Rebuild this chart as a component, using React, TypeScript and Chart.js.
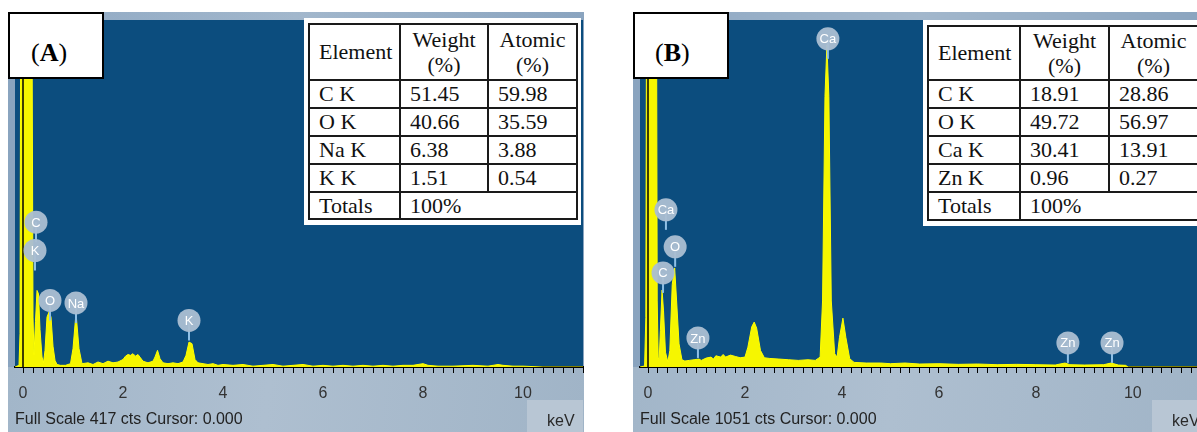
import React, { useEffect, useRef } from 'react';
import { Chart, registerables } from 'chart.js';

Chart.register(...registerables);

type Pt = [number, number];
type PeakLabel = { t: string; e: number; c: number };

// ---- spectrum (A): [energy keV, counts]
const SPECTRUM_A: Pt[] = [
  [-0.16, 0], [-0.08, 2], [-0.06, 40], [-0.04, 600], [0.17, 600], [0.2, 60], [0.22, 15],
  [0.25, 55], [0.28, 92], [0.31, 88], [0.34, 45], [0.38, 12], [0.41, 5], [0.44, 20],
  [0.48, 60], [0.52, 66], [0.56, 60], [0.6, 25], [0.64, 8], [0.68, 3], [0.75, 2],
  [0.85, 2], [0.95, 4], [1.0, 22], [1.06, 65], [1.12, 22], [1.18, 4], [1.3, 5],
  [1.4, 3], [1.5, 6], [1.6, 4], [1.7, 7], [1.8, 5], [1.9, 6], [2.0, 9], [2.05, 13],
  [2.1, 15], [2.15, 14], [2.2, 16], [2.25, 13], [2.3, 15], [2.35, 11], [2.4, 7],
  [2.5, 5], [2.6, 7], [2.64, 12], [2.69, 20], [2.74, 10], [2.8, 5], [2.9, 4], [3.0, 5],
  [3.1, 4], [3.2, 6], [3.26, 14], [3.32, 30], [3.38, 28], [3.44, 9], [3.5, 5], [3.6, 4],
  [3.7, 3], [3.8, 4], [3.9, 2], [4.0, 3], [4.2, 2], [4.4, 3], [4.6, 1], [4.8, 2],
  [5.0, 3], [5.2, 1], [5.4, 2], [5.6, 3], [5.8, 1], [6.0, 2], [6.2, 1], [6.4, 2],
  [6.6, 1], [6.8, 2], [7.0, 1], [7.2, 2], [7.4, 1], [7.6, 2], [7.8, 2], [8.0, 4],
  [8.1, 2], [8.3, 1], [8.6, 1], [9.0, 2], [9.3, 1], [9.5, 3], [9.6, 2], [9.8, 1],
  [10.0, 1], [10.4, 0], [11.2, 0],
];

// ---- spectrum (B): [energy keV, counts]
const SPECTRUM_B: Pt[] = [
  [-0.165, 0], [-0.07, 3], [-0.045, 150], [-0.025, 1500], [0.17, 1500], [0.19, 200],
  [0.21, 30], [0.23, 20], [0.255, 110], [0.29, 233], [0.32, 170], [0.36, 45], [0.41, 15],
  [0.45, 50], [0.5, 250], [0.55, 300], [0.59, 200], [0.64, 70], [0.7, 22], [0.76, 18],
  [0.85, 20], [0.95, 22], [1.05, 24], [1.1, 20], [1.2, 27], [1.3, 30], [1.35, 24],
  [1.4, 34], [1.5, 30], [1.55, 38], [1.6, 30], [1.7, 36], [1.8, 32], [1.9, 28], [2.0, 30],
  [2.06, 60], [2.14, 122], [2.19, 136], [2.24, 118], [2.32, 50], [2.4, 28], [2.5, 26],
  [2.7, 24], [2.9, 22], [3.1, 20], [3.3, 22], [3.45, 20], [3.55, 30], [3.6, 200],
  [3.65, 820], [3.69, 975], [3.73, 820], [3.78, 200], [3.85, 40], [3.9, 30], [3.95, 90],
  [4.02, 148], [4.08, 90], [4.16, 25], [4.25, 14], [4.5, 12], [4.8, 12], [5.0, 10],
  [5.3, 12], [5.6, 9], [6.0, 10], [6.4, 8], [6.8, 9], [7.2, 7], [7.6, 8], [8.0, 7],
  [8.4, 6], [8.6, 12], [8.7, 7], [9.0, 6], [9.4, 7], [9.55, 12], [9.7, 6], [9.85, 5],
  [9.9, 0], [11.6, 0],
];

const FULL_SCALE_A = 417;
const FULL_SCALE_B = 1051;
const X_RANGE_A: [number, number] = [-0.16, 11.2];
const X_RANGE_B: [number, number] = [-0.165, 11.57];
const TICK_LABELS = [0, 2, 4, 6, 8, 10];
const MINOR_STEPS_PER_KEV = 5;

const PEAK_LABELS_A: PeakLabel[] = [
  { t: 'C', e: 0.26, c: 174 },
  { t: 'K', e: 0.24, c: 140 },
  { t: 'O', e: 0.54, c: 80 },
  { t: 'Na', e: 1.06, c: 77 },
  { t: 'K', e: 3.32, c: 56 },
];
const PEAK_LABELS_B: PeakLabel[] = [
  { t: 'Ca', e: 0.37, c: 476 },
  { t: 'O', e: 0.56, c: 364 },
  { t: 'C', e: 0.31, c: 285 },
  { t: 'Zn', e: 1.03, c: 88 },
  { t: 'Ca', e: 3.71, c: 994 },
  { t: 'Zn', e: 8.66, c: 73 },
  { t: 'Zn', e: 9.57, c: 73 },
];

const ELEMENTS_A = ['C K', 'O K', 'Na K', 'K K'];
const WEIGHT_A = ['51.45', '40.66', '6.38', '1.51'];
const ATOMIC_A = ['59.98', '35.59', '3.88', '0.54'];
const ELEMENTS_B = ['C K', 'O K', 'Ca K', 'Zn K'];
const WEIGHT_B = ['18.91', '49.72', '30.41', '0.96'];
const ATOMIC_B = ['28.86', '56.97', '13.91', '0.27'];
const TOTAL = '100%';

const SANS = '"Liberation Sans", Arial, sans-serif';
const SERIF = '"Liberation Serif", "Times New Roman", serif';

function Spectrum(props: {
  width: number;
  height: number;
  spectrum: Pt[];
  fullScale: number;
  xRange: [number, number];
  labels: PeakLabel[];
}) {
  const ref = useRef<HTMLCanvasElement>(null);
  useEffect(() => {
    const canvas = ref.current!;
    const labels = props.labels;
    const plugin = {
      id: 'edsDecor',
      beforeDraw(chart: any) {
        const { ctx, chartArea: a } = chart;
        const w = chart.width;
        const h = chart.height;
        ctx.save();
        ctx.fillStyle = '#8aa4bf';
        ctx.fillRect(0, 0, w, h);
        const tg = ctx.createLinearGradient(0, 0, w, 0);
        tg.addColorStop(0, '#8ea8c3');
        tg.addColorStop(0.5, '#a2b7cc');
        tg.addColorStop(1, '#8aa4bf');
        ctx.fillStyle = tg;
        ctx.fillRect(0, 0, w, a.top);
        ctx.fillStyle = '#0c4d7e';
        ctx.fillRect(a.left, a.top, a.right - a.left, a.bottom - a.top);
        const bg = ctx.createLinearGradient(0, a.bottom, w, h);
        bg.addColorStop(0, '#a2b6c9');
        bg.addColorStop(0.45, '#aebfd0');
        bg.addColorStop(1, '#a0b4c7');
        ctx.fillStyle = bg;
        ctx.fillRect(0, a.bottom, w, h - a.bottom);
        ctx.restore();
      },
      afterDatasetsDraw(chart: any) {
        const { ctx, chartArea: a, scales } = chart;
        const x0 = scales.x.getPixelForValue(0);
        ctx.save();
        ctx.strokeStyle = '#000';
        ctx.lineWidth = 1.5;
        ctx.beginPath();
        ctx.moveTo(x0, a.top);
        ctx.lineTo(x0, a.bottom);
        ctx.stroke();
        for (const l of labels) {
          const x = scales.x.getPixelForValue(l.e);
          const y = scales.y.getPixelForValue(l.c);
          ctx.strokeStyle = '#8fc0e6';
          ctx.lineWidth = 2;
          ctx.beginPath();
          ctx.moveTo(x, y);
          ctx.lineTo(x, y + 20);
          ctx.stroke();
          ctx.fillStyle = 'rgba(170,189,209,0.96)';
          ctx.beginPath();
          ctx.arc(x, y, 11.5, 0, Math.PI * 2);
          ctx.fill();
          ctx.fillStyle = '#ffffff';
          ctx.font = '13px ' + SANS;
          ctx.textAlign = 'center';
          ctx.textBaseline = 'middle';
          ctx.fillText(l.t, x, y + 1);
        }
        ctx.restore();
      },
    };
    const chart = new Chart(canvas, {
      type: 'line',
      data: {
        datasets: [
          {
            data: props.spectrum.map(([x, y]) => ({ x, y })),
            borderColor: '#ffff00',
            backgroundColor: '#f6f600',
            borderWidth: 1,
            pointRadius: 0,
            tension: 0,
            fill: 'origin',
          },
        ],
      },
      options: {
        animation: false,
        responsive: false,
        maintainAspectRatio: false,
        events: [],
        layout: { padding: { left: 7, top: 8, right: 1, bottom: 0 } },
        plugins: { legend: { display: false }, tooltip: { enabled: false } },
        scales: {
          x: {
            type: 'linear',
            min: props.xRange[0],
            max: props.xRange[1],
            afterBuildTicks: (scale: any) => {
              const n = Math.floor(props.xRange[1] * MINOR_STEPS_PER_KEV + 1e-6);
              const t = [];
              for (let k = 0; k <= n; k++) t.push({ value: k / MINOR_STEPS_PER_KEV });
              scale.ticks = t;
            },
            afterFit: (scale: any) => {
              scale.height = 65;
              scale.paddingLeft = 0;
              scale.paddingRight = 0;
            },
            ticks: {
              autoSkip: false,
              maxRotation: 0,
              minRotation: 0,
              padding: 11,
              color: '#333',
              font: { family: SANS, size: 16 },
              callback: (v: any) => (TICK_LABELS.includes(v) ? String(v) : ''),
            },
            grid: {
              drawOnChartArea: false,
              drawTicks: true,
              tickLength: 6,
              color: '#000',
            },
            border: { display: true, color: '#000', width: 2 },
          },
          y: { display: false, min: 0, max: props.fullScale },
        },
      },
      plugins: [plugin],
    } as any);
    return () => chart.destroy();
  }, []);
  return (
    <canvas
      ref={ref}
      width={props.width}
      height={props.height}
      style={{ position: 'absolute', left: 0, top: 0, width: props.width, height: props.height }}
    />
  );
}

function DataTable(props: {
  left: number;
  top: number;
  cols: number[];
  headerH: number;
  rowHs: number[];
  elements: string[];
  weight: string[];
  atomic: string[];
}) {
  const cell: React.CSSProperties = {
    border: '2px solid #1a1a1a',
    padding: '0 0 0 9px',
    textAlign: 'left',
    verticalAlign: 'middle',
    lineHeight: '22px',
    whiteSpace: 'nowrap',
    overflow: 'hidden',
  };
  const head: React.CSSProperties = { ...cell, textAlign: 'center', padding: 0, lineHeight: '25px' };
  const total = props.cols.reduce((s, w) => s + w, 0);
  return (
    <div style={{ position: 'absolute', left: props.left, top: props.top, background: '#fff', padding: '5px 3px 5px 4px' }}>
      <table
        style={{
          borderCollapse: 'collapse',
          tableLayout: 'fixed',
          width: total,
          fontFamily: SERIF,
          fontSize: 22,
          color: '#111',
        }}
      >
        <colgroup>
          {props.cols.map((w, i) => (
            <col key={i} style={{ width: w }} />
          ))}
        </colgroup>
        <tbody>
          <tr style={{ height: props.headerH }}>
            <td style={{ ...cell, padding: '0 0 0 9px' }}>Element</td>
            <td style={head}>
              Weight
              <br />
              (%)
            </td>
            <td style={head}>
              Atomic
              <br />
              (%)
            </td>
          </tr>
          {props.elements.map((el, i) => (
            <tr key={el} style={{ height: props.rowHs[i] }}>
              <td style={cell}>{el}</td>
              <td style={cell}>{props.weight[i]}</td>
              <td style={cell}>{props.atomic[i]}</td>
            </tr>
          ))}
          <tr style={{ height: props.rowHs[props.elements.length] }}>
            <td style={cell}>Totals</td>
            <td style={cell} colSpan={2}>
              {TOTAL}
            </td>
          </tr>
        </tbody>
      </table>
    </div>
  );
}

function Panel(props: {
  left: number;
  width: number;
  letter: string;
  letterPad: number;
  spectrum: Pt[];
  fullScale: number;
  xRange: [number, number];
  labels: PeakLabel[];
}) {
  return (
    <div style={{ position: 'absolute', left: props.left, top: 12, width: props.width, height: 420 }}>
      <Spectrum
        width={props.width}
        height={420}
        spectrum={props.spectrum}
        fullScale={props.fullScale}
        xRange={props.xRange}
        labels={props.labels}
      />
      <div
        style={{
          position: 'absolute',
          left: 519,
          top: 388,
          width: 56,
          height: 32,
          background: '#b8c6d4',
        }}
      />
      <div
        style={{
          position: 'absolute',
          left: 539,
          top: 401,
          fontFamily: SANS,
          fontSize: 16,
          lineHeight: '16px',
          color: '#2a2a2a',
        }}
      >
        keV
      </div>
      <div
        style={{
          position: 'absolute',
          left: 7,
          top: 399,
          fontFamily: SANS,
          fontSize: 16,
          lineHeight: '16px',
          color: '#222',
          whiteSpace: 'nowrap',
        }}
      >
        {`Full Scale ${props.fullScale} cts Cursor: 0.000`}
      </div>
      <div
        style={{
          position: 'absolute',
          left: 0,
          top: 0,
          width: 96,
          height: 67,
          boxSizing: 'border-box',
          border: '2px solid #000',
          background: '#fff',
        }}
      >
        <span
          style={{
            position: 'absolute',
            left: props.letterPad,
            top: 26,
            fontFamily: SERIF,
            fontSize: 26,
            lineHeight: '26px',
            color: '#000',
          }}
        >
          (<b>{props.letter}</b>)
        </span>
      </div>
    </div>
  );
}

export default function App() {
  return (
    <div
      style={{
        position: 'fixed',
        left: 0,
        top: 0,
        width: 1197,
        height: 432,
        overflow: 'hidden',
        background: '#fff',
      }}
    >
      <Panel
        left={8}
        width={576}
        letter="A"
        letterPad={21}
        spectrum={SPECTRUM_A}
        fullScale={FULL_SCALE_A}
        xRange={X_RANGE_A}
        labels={PEAK_LABELS_A}
      />
      <Panel
        left={633}
        width={577}
        letter="B"
        letterPad={20}
        spectrum={SPECTRUM_B}
        fullScale={FULL_SCALE_B}
        xRange={X_RANGE_B}
        labels={PEAK_LABELS_B}
      />
      <DataTable
        left={304}
        top={18}
        cols={[91, 88, 89]}
        headerH={56}
        rowHs={[28, 28, 28, 28, 27]}
        elements={ELEMENTS_A}
        weight={WEIGHT_A}
        atomic={ATOMIC_A}
      />
      <DataTable
        left={923}
        top={20}
        cols={[92, 89, 89]}
        headerH={54}
        rowHs={[28, 28, 28, 28, 28]}
        elements={ELEMENTS_B}
        weight={WEIGHT_B}
        atomic={ATOMIC_B}
      />
    </div>
  );
}
